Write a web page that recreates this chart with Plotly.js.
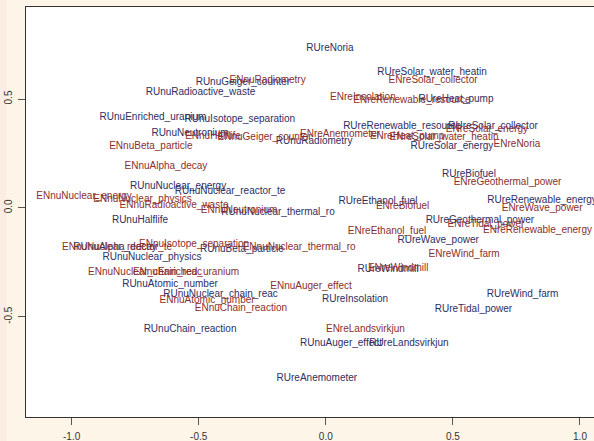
<!DOCTYPE html>
<html>
<head>
<meta charset="utf-8">
<script src="https://cdn.plot.ly/plotly-3.0.1.min.js"></script>
<style>html,body{margin:0;padding:0;background:#fdf6e8;}#chart{width:594px;height:441px;}</style>
</head>
<body>
<div id="chart"></div>
<script>
// Russian-side nuclear terms (blue)
const ruNuLabels = ["RUnuGeiger_counter","RUnuRadioactive_waste","RUnuEnriched_uranium","RUnuIsotope_separation","RUnuNeutronium","RUnuRadiometry","RUnuNuclear_energy","RUnuNuclear_reactor_te","RUnuNuclear_thermal_ro","RUnuHalflife","RUnuAlpha_decay","RUnuNuclear_physics","RUnuBeta_particle","RUnuAtomic_number","RUnuNuclear_chain_reac","RUnuChain_reaction","RUnuAuger_effect"];
const ruNuX = [-0.326,-0.493,-0.680,-0.338,-0.534,-0.046,-0.581,-0.377,-0.188,-0.731,-0.829,-0.684,-0.330,-0.613,-0.414,-0.534,0.060];
const ruNuY = [0.576,0.528,0.417,0.406,0.342,0.307,0.097,0.074,-0.022,-0.059,-0.184,-0.227,-0.190,-0.350,-0.396,-0.558,-0.625];

// Russian-side renewable terms (blue)
const ruReLabels = ["RUreNoria","RUreSolar_water_heatin","RUreHeat_pump","RUreRenewable_resource","RUreSolar_collector","RUreSolar_energy","RUreBiofuel","RUreEthanol_fuel","RUreRenewable_energy","RUreGeothermal_power","RUreWave_power","RUreWindmill","RUreWind_farm","RUreTidal_power","RUreInsolation","RUreLandsvirkjun","RUreAnemometer"];
const ruReX = [0.0165,0.418,0.512,0.300,0.658,0.496,0.563,0.205,0.851,0.606,0.442,0.245,0.774,0.581,0.115,0.327,-0.035];
const ruReY = [0.730,0.621,0.499,0.376,0.376,0.284,0.151,0.031,0.036,-0.059,-0.151,-0.285,-0.396,-0.466,-0.423,-0.625,-0.786];

// English-side nuclear terms (red)
const enNuLabels = ["ENnuRadiometry","ENnuHalflife","ENnuGeiger_counter","ENnuBeta_particle","ENnuAlpha_decay","ENnuNuclear_energy","ENnuNuclear_physics","ENnuRadioactive_waste","ENnuNeutronium","ENnuIsotope_separation","ENnuNuclear_thermal_ro","ENnuNuclear_reactor_te","ENnuNuclear_chain_reac","ENnuEnriched_uranium","ENnuAtomic_number","ENnuChain_reaction","ENnuAuger_effect"];
const enNuX = [-0.229,-0.444,-0.241,-0.688,-0.629,-0.951,-0.721,-0.597,-0.341,-0.518,-0.105,-0.821,-0.711,-0.550,-0.467,-0.334,-0.058];
const enNuY = [0.585,0.328,0.325,0.284,0.192,0.054,0.039,0.013,-0.010,-0.167,-0.180,-0.180,-0.295,-0.298,-0.427,-0.461,-0.359];

// English-side renewable terms (red)
const enReLabels = ["ENreSolar_collector","ENreInsolation","ENreRenewable_resource","ENreAnemometer","ENreHeat_pump","ENreSolar_water_heatin","ENreSolar_energy","ENreNoria","ENreGeothermal_power","ENreBiofuel","ENreWave_power","ENreTidal_power","ENreRenewable_energy","ENreEthanol_fuel","ENreWind_farm","ENreWindmill","ENreLandsvirkjun"];
const enReX = [0.422,0.146,0.339,0.056,0.320,0.465,0.634,0.752,0.715,0.302,0.851,0.630,0.833,0.241,0.544,0.285,0.156];
const enReY = [0.587,0.506,0.495,0.339,0.327,0.325,0.362,0.289,0.117,0.005,-0.002,-0.076,-0.105,-0.110,-0.213,-0.278,-0.561];

const xTicks = [-1.0,-0.5,0.0,0.5,1.0];
const xTickText = ["-1.0","-0.5","0.0","0.5","1.0"];
const yTicks = [-0.5,0.0,0.5];
const yTickText = ["-0.5","0.0","0.5"];

const blue = "#2e2e62";
const red = "#8a2f2c";
const fontFam = "Liberation Sans, Arial, sans-serif";

function textTrace(x, y, labels, color){
  return {x:x, y:y, text:labels, mode:"text", type:"scatter",
    textposition:"middle center", hoverinfo:"none",
    textfont:{family:fontFam, size:10, color:color}, cliponaxis:false};
}

const data = [
  textTrace(ruNuX, ruNuY, ruNuLabels, blue),
  textTrace(ruReX, ruReY, ruReLabels, blue),
  textTrace(enNuX, enNuY, enNuLabels, red),
  textTrace(enReX, enReY, enReLabels, red)
];

const axisCommon = {showgrid:false, zeroline:false, showline:true,
  linecolor:"#333333", linewidth:1, ticks:"outside", ticklen:7, tickcolor:"#555555",
  tickfont:{family:fontFam, size:10, color:"#333333"}};

const layout = {
  width:594, height:441,
  margin:{l:26, r:0, t:7, b:24},
  paper_bgcolor:"#fdf6e8", plot_bgcolor:"#ffffff",
  showlegend:false,
  xaxis:Object.assign({}, axisCommon, {mirror:true, range:[-1.1794,1.0551], tickvals:xTicks, ticktext:xTickText, ticklabelstandoff:3}),
  yaxis:Object.assign({}, axisCommon, {mirror:false, range:[-0.9607,0.9226], tickvals:yTicks, ticktext:yTickText, tickangle:-90, ticklabelstandoff:2}),
  shapes:[{type:"rect", xref:"paper", yref:"paper", x0:-0.0458, x1:-0.034, y0:-0.06, y1:1.02,
    fillcolor:"#fbece4", line:{width:0}, layer:"below"}]
};

Plotly.newPlot("chart", data, layout, {displayModeBar:false, staticPlot:true});
</script>
</body>
</html>
